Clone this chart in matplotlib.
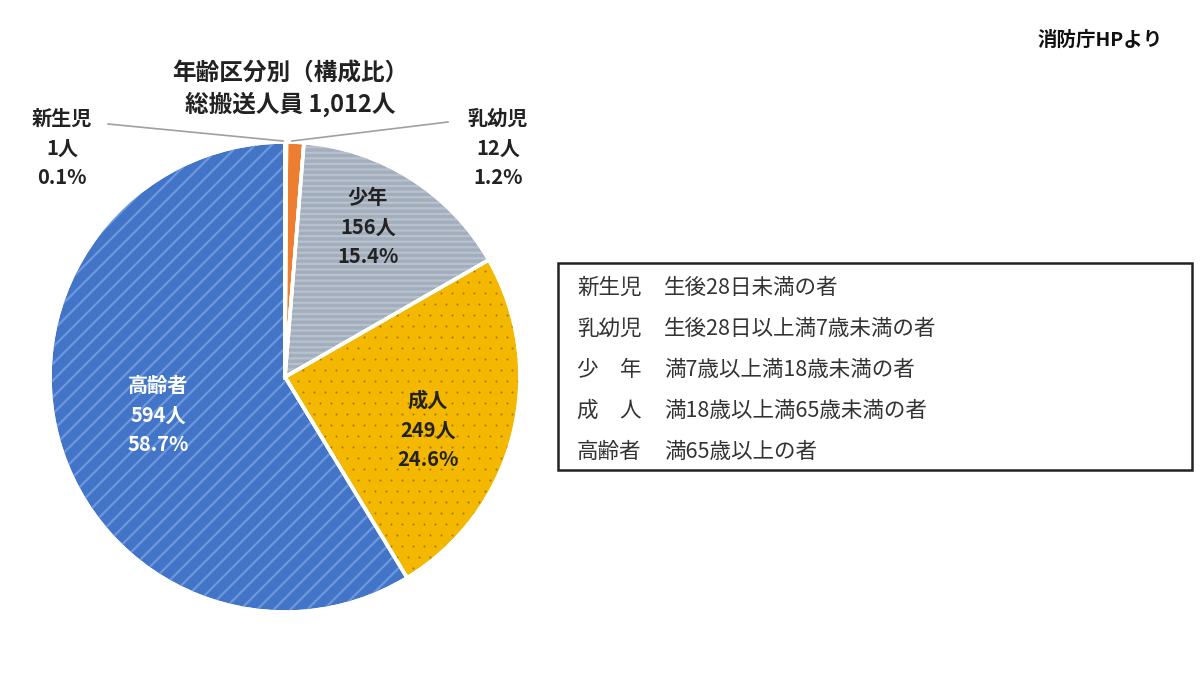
import matplotlib.pyplot as plt
import matplotlib as mpl
import numpy as np
from matplotlib.patches import Wedge, Rectangle

plt.rcParams['font.family'] = ['Noto Sans CJK JP', 'DejaVu Sans']
plt.rcParams['hatch.linewidth'] = 1.6

# data
categories = ["新生児", "乳幼児", "少年", "成人", "高齢者"]
counts = [1, 12, 156, 249, 594]
shares = [0.1, 1.2, 15.4, 24.6, 58.7]
colors = ["#ED7D31", "#ED7D31", "#A3AEBD", "#F5B800", "#4274C8"]
hatch_colors = ["#ED7D31", "#ED7D31", "#B8C1CD", "#8A6A10", "#6E98DC"]
hatches = [None, None, "---", "dots", "//"]

legend_names = ["新生児", "乳幼児", "少\u3000年", "成\u3000人", "高齢者"]
legend_desc = ["生後28日未満の者", "生後28日以上満7歳未満の者", "満7歳以上満18歳未満の者",
               "満18歳以上満65歳未満の者", "満65歳以上の者"]

title = "年齢区分別（構成比）\n総搬送人員 1,012人"
H = 675

fig = plt.figure(figsize=(12, 6.75), dpi=100)
ax = fig.add_axes([0, 0, 1, 1])

cx, cy, r = 285, H - 377, 235
wedges, _ = ax.pie(counts, colors=colors, startangle=90, counterclock=False,
                   center=(cx, cy), radius=r, frame=True,
                   wedgeprops=dict(edgecolor='white', linewidth=2.5))
ax.set_xlim(0, 1200)
ax.set_ylim(0, H)
ax.axis('off')

# texture overlays, then white borders again on top
for w, hc, hp in zip(wedges, hatch_colors, hatches):
    if hp is None:
        continue
    if hp == "dots":
        # staggered dot grid clipped to the wedge
        gx, gy = np.meshgrid(np.arange(cx - r, cx + r, 11.0), np.arange(cy - r, cy + r, 11.0))
        gx = gx + (np.arange(gx.shape[0])[:, None] % 2) * 5.5
        sc = ax.scatter(gx.ravel(), gy.ravel(), s=2.2, color=hc, linewidths=0, alpha=0.8)
        sc.set_clip_path(w)
        continue
    ax.add_patch(Wedge(w.center, w.r, w.theta1, w.theta2, fill=False,
                       hatch=hp, edgecolor=hc, linewidth=0))
for w in wedges:
    ax.add_patch(Wedge(w.center, w.r, w.theta1, w.theta2, fill=False,
                       edgecolor='white', linewidth=2.5))

def lab(i):
    return f"{categories[i]}\n{counts[i]}人\n{shares[i]}%"

kw = dict(ha='center', va='center', fontsize=14.5, fontweight='bold', linespacing=1.5)
ax.text(62, H - 148, lab(0), color='#222222', **kw)
ax.text(498, H - 148, lab(1), color='#222222', **kw)
ax.text(368, H - 227, lab(2), color='#222222', **kw)
ax.text(428, H - 430, lab(3), color='#222222', **kw)
ax.text(158, H - 415, lab(4), color='white', **kw)

# leader lines
ax.plot([108, 283], [H - 124, H - 141], color='#A0A0A0', lw=1.2)
ax.plot([448, 292], [H - 122, H - 141], color='#A0A0A0', lw=1.2)

ax.text(290, H - 89, title, ha='center', va='center', fontsize=17,
        fontweight='bold', linespacing=1.3, color='#222222')

ax.text(1100, H - 40, "消防庁HPより", ha='center', va='center', fontsize=14,
        fontweight='bold', color='#111111')

# definition box
ax.add_patch(Rectangle((558, H - 470), 634, 207, fill=False, edgecolor='#222222', lw=1.8))
ys = [288, 329, 370, 411, 452]
for n, d, y in zip(legend_names, legend_desc, ys):
    ax.text(577, H - y, n, ha='left', va='center', fontsize=15.5, color='#333333')
    ax.text(664, H - y, d, ha='left', va='center', fontsize=15.5, color='#333333')

fig.savefig("out.png", dpi=100)
